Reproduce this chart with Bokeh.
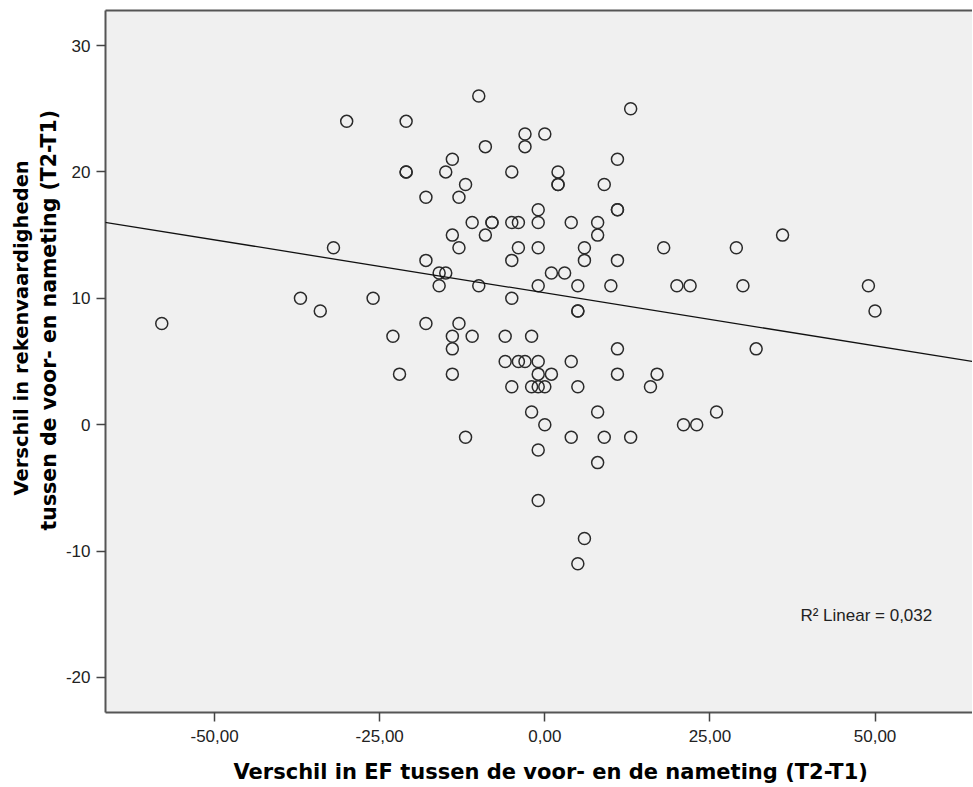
import numpy as np
from bokeh.plotting import figure
from bokeh.models import Range1d, FixedTicker, LinearAxis, Title, Label, Slope
from bokeh.embed import file_html
from bokeh.resources import INLINE

# --- data ---
ef_diff = [-58, -37, -34, -32, -30, -26, -23, -22, -21, -21, -21, -18, -18, -18,
           -16, -16, -15, -15, -14, -14, -14, -14, -14, -13, -13, -13, -12, -12,
           -11, -11, -10, -10, -9, -9, -8, -8, -6, -6, -5, -5, -5, -5, -5,
           -4, -4, -4, -3, -3, -3, -2, -2, -2, -1, -1, -1, -1, -1, -1, -1, -1, -1,
           0, 0, 0, 1, 1, 2, 2, 2, 3, 4, 4, 4, 5, 5, 5, 5, 5, 6, 6, 6,
           8, 8, 8, 8, 9, 9, 10, 11, 11, 11, 11, 11, 11, 13, 13, 16, 17, 18,
           20, 21, 22, 23, 26, 29, 30, 32, 36, 49, 50]
reken_diff = [8, 10, 9, 14, 24, 10, 7, 4, 24, 20, 20, 18, 13, 8,
              12, 11, 12, 20, 21, 15, 7, 6, 4, 18, 14, 8, 19, -1,
              16, 7, 26, 11, 22, 15, 16, 16, 7, 5, 20, 16, 13, 10, 3,
              16, 14, 5, 23, 22, 5, 7, 3, 1, 17, 16, 14, 11, 5, 4, 3, -2, -6,
              23, 3, 0, 12, 4, 20, 19, 19, 12, 16, 5, -1, 11, 9, 9, 3, -11, 14, 13, -9,
              16, 15, 1, -3, 19, -1, 11, 21, 17, 17, 13, 6, 4, 25, -1, 3, 4, 14,
              11, 0, 11, 0, 1, 14, 11, 6, 15, 11, 9]

r2_text = "R\u00b2 Linear = 0,032"

x_ticks = [-50, -25, 0, 25, 50]
x_tick_labels = ["-50,00", "-25,00", "0,00", "25,00", "50,00"]
y_ticks = [-20, -10, 0, 10, 20, 30]
y_tick_labels = ["-20", "-10", "0", "10", "20", "30"]

x_title = "Verschil in EF tussen de voor- en de nameting (T2-T1)"
y_title_1 = "Verschil in rekenvaardigheden"
y_title_2 = "tussen de voor- en nameting (T2-T1)"

# linear fit (ordinary least squares) of the plotted points
fit_slope, fit_intercept = np.polyfit(np.array(ef_diff, float), np.array(reken_diff, float), 1)

FONT = "Liberation Sans"
TITLE_FONT = "DejaVu Sans"
BORDER = "#555555"

p = figure(frame_width=867, frame_height=702,
           x_range=Range1d(-66.52, 64.76), y_range=Range1d(-22.77, 32.77),
           min_border_left=105, min_border_right=0, min_border_top=10, min_border_bottom=75,
           output_backend="svg", toolbar_location=None,
           background_fill_color="#F0F0F0", border_fill_color="white")
p.outline_line_color = None
p.grid.visible = False

for ax in (p.xaxis[0], p.yaxis[0]):
    ax.axis_line_color = BORDER
    ax.axis_line_width = 2
    ax.major_tick_line_color = "#444444"
    ax.major_tick_line_width = 1.5
    ax.major_tick_in = 0
    ax.major_tick_out = 9
    ax.minor_tick_line_color = None
    ax.major_label_text_font = FONT
    ax.major_label_text_font_size = "17px"
    ax.major_label_text_color = "#222222"

p.xaxis.ticker = FixedTicker(ticks=x_ticks)
p.xaxis.major_label_overrides = dict(zip(x_ticks, x_tick_labels))
p.xaxis.major_label_standoff = 8

p.yaxis.ticker = FixedTicker(ticks=y_ticks)
p.yaxis.major_label_overrides = dict(zip(y_ticks, y_tick_labels))
p.yaxis.major_label_standoff = 6

top_axis = LinearAxis(ticker=FixedTicker(ticks=[]), axis_line_color=BORDER, axis_line_width=2,
                      major_tick_out=0, major_tick_in=0, minor_tick_out=0, minor_tick_in=0,
                      major_label_text_font_size="0px", major_label_standoff=0)
p.add_layout(top_axis, "above")

# x-axis title
p.add_layout(Title(text=x_title, align="left", offset=128, text_font=TITLE_FONT,
                   text_font_size="21px", text_font_style="bold", text_color="black",
                   standoff=26), "below")

# two-line y-axis title (closest line first)
p.add_layout(Title(text=y_title_2, align="left", offset=182, text_font=TITLE_FONT,
                   text_font_size="20.5px", text_font_style="bold", text_color="black",
                   standoff=4), "left")
p.add_layout(Title(text=y_title_1, align="left", offset=217, text_font=TITLE_FONT,
                   text_font_size="19.5px", text_font_style="bold", text_color="black",
                   standoff=0), "left")

p.add_layout(Slope(gradient=fit_slope, y_intercept=fit_intercept,
                   line_color="#111111", line_width=1.3))

p.scatter(ef_diff, reken_diff, marker="circle", size=12, fill_color=None,
          line_color="#2a2a2a", line_width=1.5)

p.add_layout(Label(x=38.7, y=-15.1, text=r2_text, text_font=FONT, text_font_size="17px",
                   text_color="#222222", text_baseline="middle", text_align="left"))

open("out.html", "w").write(file_html(p, INLINE))
